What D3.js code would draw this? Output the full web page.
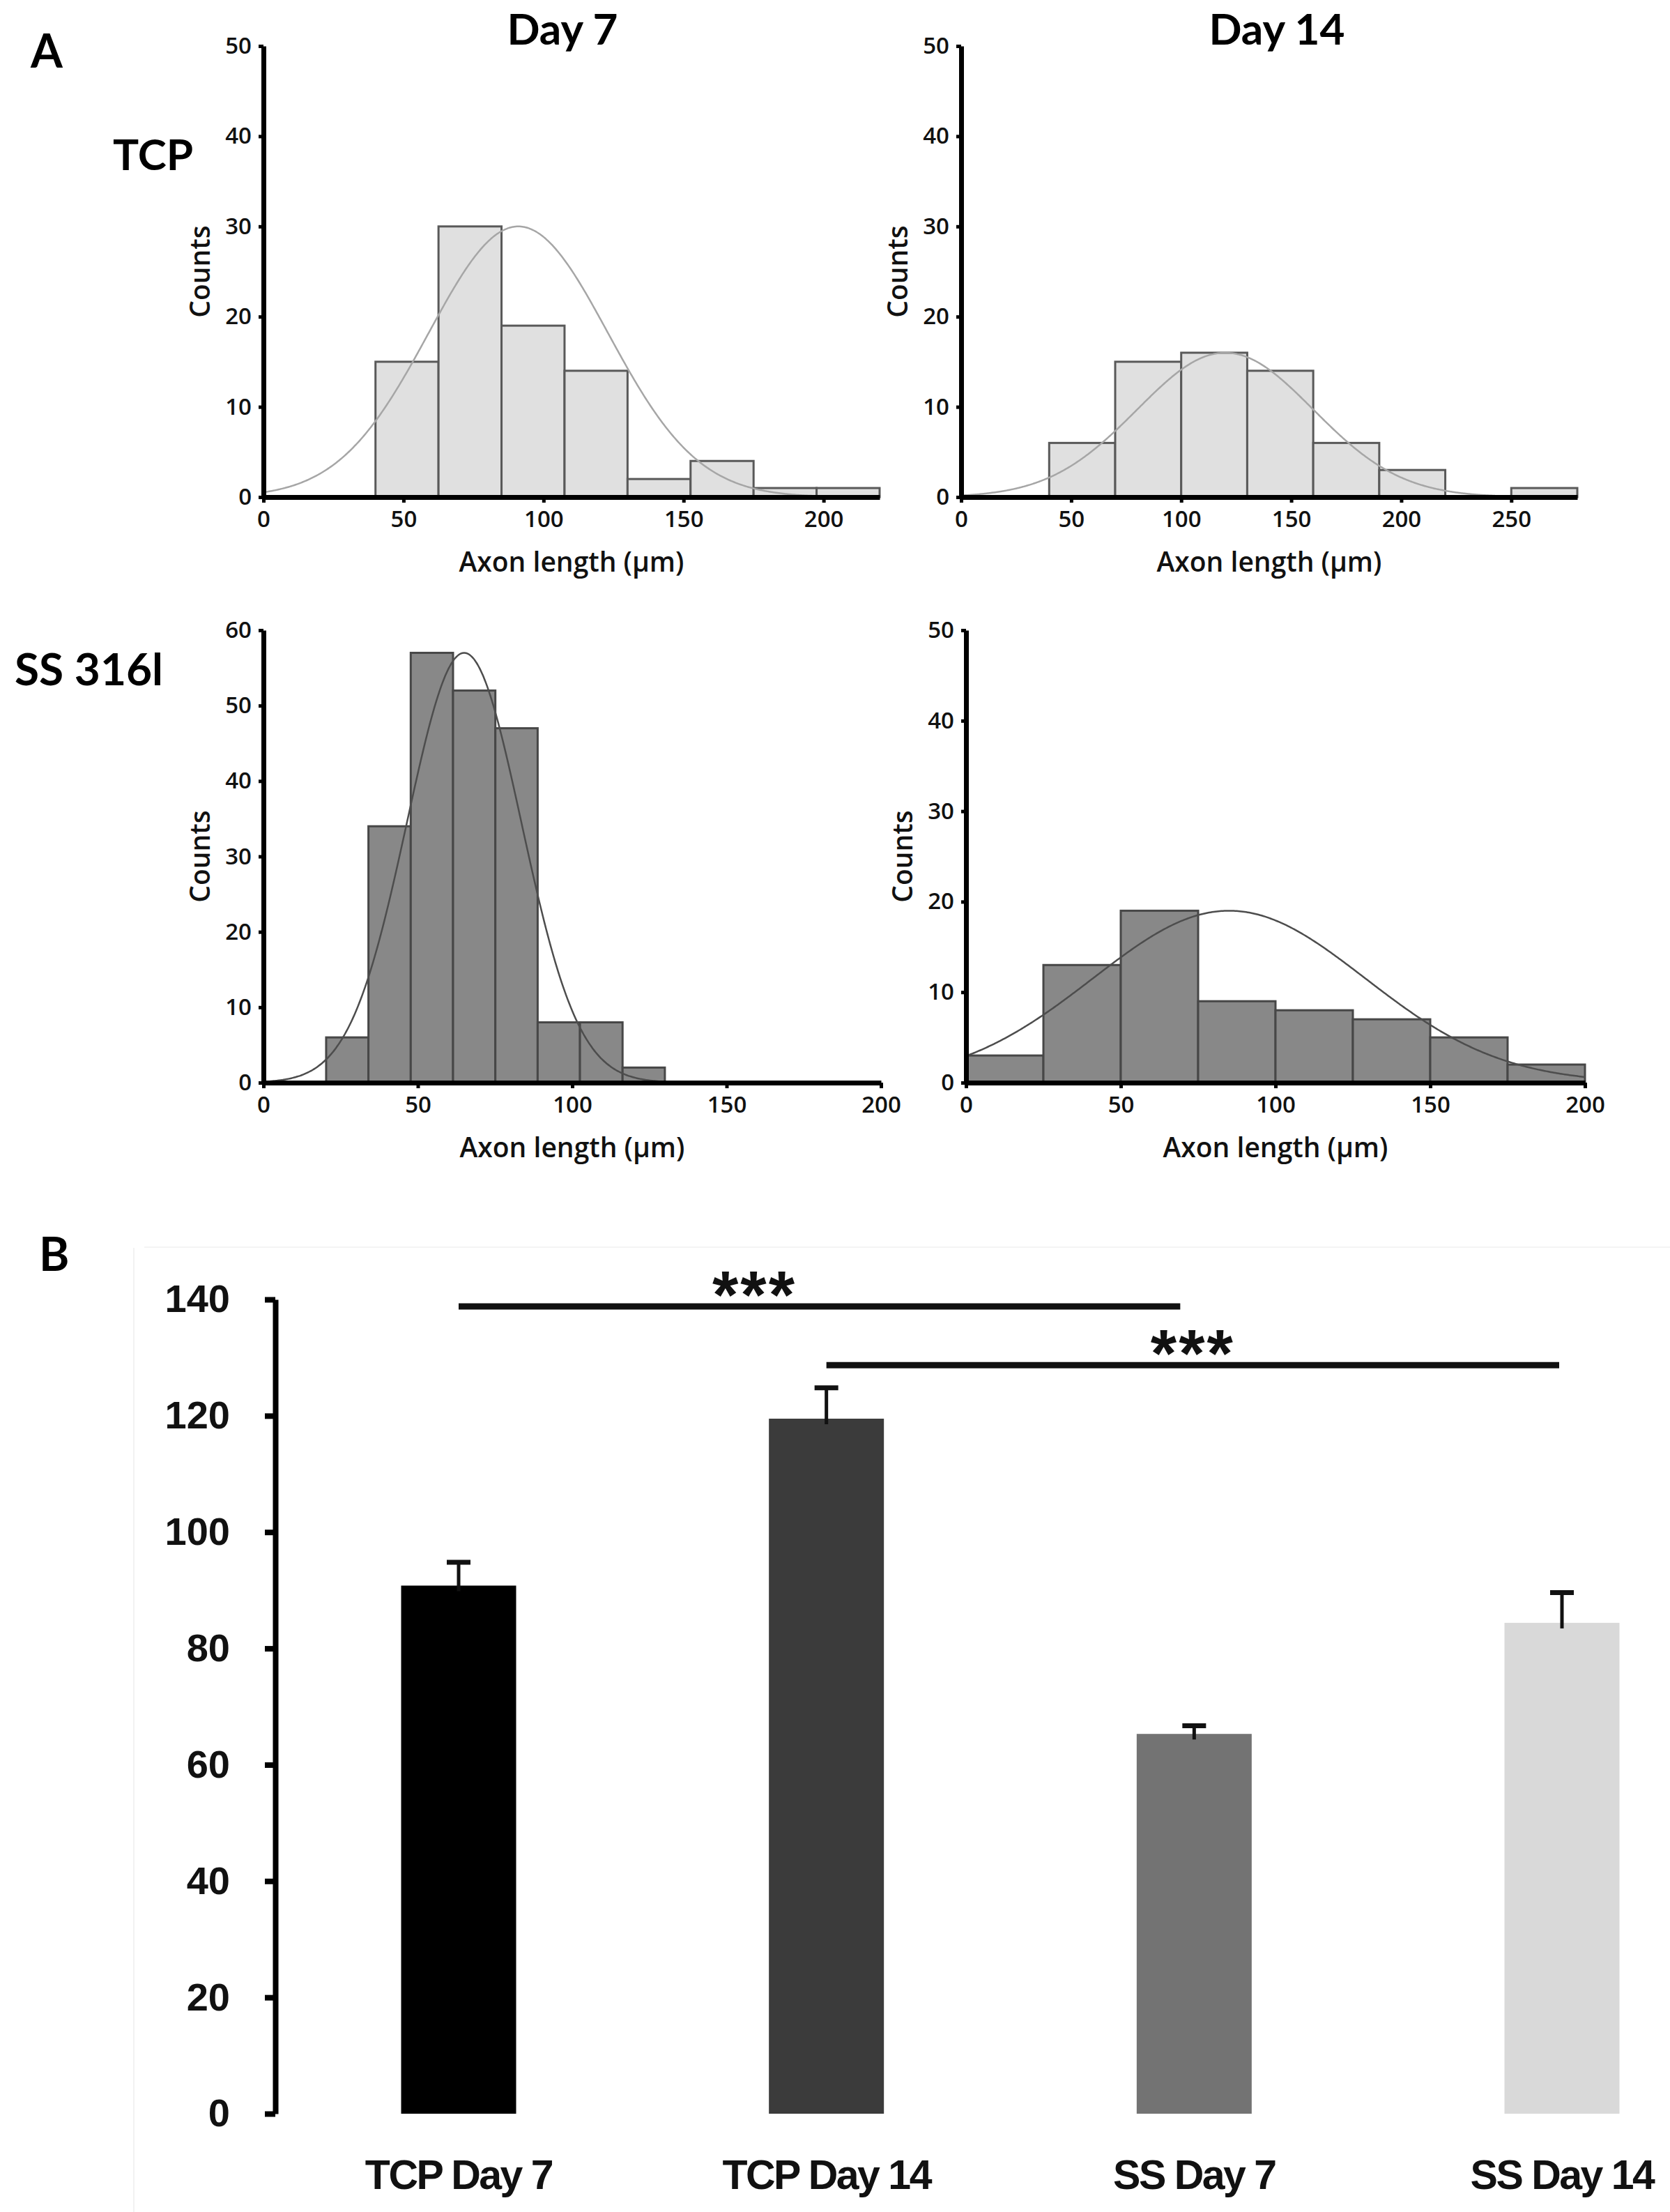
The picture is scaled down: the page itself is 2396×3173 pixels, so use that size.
<!DOCTYPE html>
<html><head><meta charset="utf-8">
<script src="https://cdn.jsdelivr.net/npm/d3@7"></script>
<style>body{margin:0;background:#fff} svg{display:block}</style>
</head><body>
<script>
// ---------- DATA ----------
// Histogram bin edges (µm) and counts
const tcpDay7Edges  = [40, 62.5, 85, 107.5, 130, 152.5, 175, 197.5, 220];
const tcpDay7Counts = [15, 30, 19, 14, 2, 4, 1, 1];
const tcpDay14Edges  = [40, 70, 100, 130, 160, 190, 220, 250, 280];
const tcpDay14Counts = [6, 15, 16, 14, 6, 3, 0, 1];
const ssDay7Edges  = [20.3, 34, 47.7, 61.4, 75.1, 88.8, 102.5, 116.3, 130];
const ssDay7Counts = [6, 34, 57, 52, 47, 8, 8, 2];
const ssDay14Edges  = [0, 25, 50, 75, 100, 125, 150, 175, 200];
const ssDay14Counts = [3, 13, 19, 9, 8, 7, 5, 2];
// Fitted normal curves: [mean, sd, peak count]
const tcpDay7Fit  = [91, 32, 30];
const tcpDay14Fit = [120, 40, 16];
const ssDay7Fit   = [65, 18.5, 57];
const ssDay14Fit  = [85, 44, 19];
// Histogram axes
const tcpDay7XTicks = [0, 50, 100, 150, 200];
const tcpDay14XTicks = [0, 50, 100, 150, 200, 250];
const ssXTicks = [0, 50, 100, 150, 200];
const countTicks50 = [0, 10, 20, 30, 40, 50];
const countTicks60 = [0, 10, 20, 30, 40, 50, 60];

// Panel B bar chart
const barCategories = ["TCP Day 7", "TCP Day 14", "SS Day 7", "SS Day 14"];
const barMeans  = [90.8, 119.5, 65.3, 84.4];
const barErrors = [4.0, 5.3, 1.4, 5.2];
const barYTicks = [0, 20, 40, 60, 80, 100, 120, 140];
const sigFrom   = ["TCP Day 7", "TCP Day 14"];
const sigTo     = ["SS Day 7", "SS Day 14"];
const sigLevel  = [138.8, 128.7];
const sigLabel  = ["***", "***"];

// ---------- DRAW ----------
const W = 2396, H = 3173;
const svg = d3.select("body").append("svg").attr("width", W).attr("height", H)
  .attr("viewBox", `0 0 ${W} ${H}`);
svg.append("rect").attr("width", W).attr("height", H).attr("fill", "#fff");

const labelFont = "Lato, 'Open Sans', sans-serif";
const tickFont = "'Open Sans', sans-serif";

function histogram(o) {
  const g = svg.append("g");
  const x = d3.scaleLinear().domain([0, o.xMax]).range([o.x0, o.x1]);
  const y = d3.scaleLinear().domain([0, o.yMax]).range([o.yb, o.yt]);
  const bins = o.counts.map((c, i) => ({x0: o.edges[i], x1: o.edges[i + 1], c}));
  g.selectAll("rect.bin").data(bins.filter(b => b.c > 0)).join("rect")
    .attr("x", d => x(d.x0)).attr("width", d => x(d.x1) - x(d.x0))
    .attr("y", d => y(d.c)).attr("height", d => y(0) - y(d.c))
    .attr("fill", o.fill).attr("stroke", o.stroke).attr("stroke-width", 3);
  const [mu, sd, pk] = o.fit;
  const xs = d3.range(0, o.xMax + 0.001, 0.5);
  const line = d3.line().x(v => x(v)).y(v => y(pk * Math.exp(-((v - mu) ** 2) / (2 * sd * sd))))
    .curve(d3.curveBasis);
  g.append("path").attr("d", line(xs)).attr("fill", "none")
    .attr("stroke", o.curveColor).attr("stroke-width", 2.5);

  const ax = g.append("g").attr("transform", `translate(0,${o.yb})`)
    .call(d3.axisBottom(x).tickValues(o.xTicks).tickSize(8).tickSizeOuter(0).tickPadding(12));
  const ay = g.append("g").attr("transform", `translate(${o.x0},0)`)
    .call(d3.axisLeft(y).tickValues(o.yTicks).tickSize(7).tickSizeOuter(0).tickPadding(10));
  [ax, ay].forEach(a => {
    a.select(".domain").attr("stroke", "#000").attr("stroke-width", 7);
    a.selectAll(".tick line").attr("stroke", "#000").attr("stroke-width", 5);
    a.selectAll(".tick text").attr("font-family", tickFont).attr("font-weight", 600)
      .attr("font-size", 33).attr("fill", "#111");
  });
  g.append("text").attr("x", (o.x0 + o.x1) / 2).attr("y", o.yb + 107)
    .attr("text-anchor", "middle").attr("font-family", tickFont).attr("font-weight", 600)
    .attr("font-size", 39).attr("fill", "#111").text("Axon length (\u00b5m)");
  g.append("text").attr("transform", `translate(${o.x0 - 91},${(o.yb + o.yt) / 2}) rotate(-90)`)
    .attr("dy", "0.35em").attr("text-anchor", "middle").attr("font-family", tickFont)
    .attr("font-weight", 600).attr("font-size", 39).attr("fill", "#111").text("Counts");
}

const lightFill = "#e0e0e0", lightStroke = "#595959", lightCurve = "#a6a6a6";
const darkFill = "#888888", darkStroke = "#474747", darkCurve = "#4d4d4d";

histogram({x0: 378, x1: 1262, yb: 713, yt: 66, xMax: 220, yMax: 50,
  edges: tcpDay7Edges, counts: tcpDay7Counts, fit: tcpDay7Fit,
  xTicks: tcpDay7XTicks, yTicks: countTicks50, fill: lightFill, stroke: lightStroke, curveColor: lightCurve});
histogram({x0: 1379, x1: 2263, yb: 713, yt: 66, xMax: 280, yMax: 50,
  edges: tcpDay14Edges, counts: tcpDay14Counts, fit: tcpDay14Fit,
  xTicks: tcpDay14XTicks, yTicks: countTicks50, fill: lightFill, stroke: lightStroke, curveColor: lightCurve});
histogram({x0: 378, x1: 1264, yb: 1553, yt: 904, xMax: 200, yMax: 60,
  edges: ssDay7Edges, counts: ssDay7Counts, fit: ssDay7Fit,
  xTicks: ssXTicks, yTicks: countTicks60, fill: darkFill, stroke: darkStroke, curveColor: darkCurve});
histogram({x0: 1386, x1: 2274, yb: 1553, yt: 904, xMax: 200, yMax: 50,
  edges: ssDay14Edges, counts: ssDay14Counts, fit: ssDay14Fit,
  xTicks: ssXTicks, yTicks: countTicks50, fill: darkFill, stroke: darkStroke, curveColor: darkCurve});

// Panel labels
function lbl(t, x, y, size, anchor) {
  svg.append("text").attr("x", x).attr("y", y).attr("text-anchor", anchor || "start")
    .attr("font-family", labelFont).attr("font-weight", 700).attr("font-size", size)
    .attr("fill", "#000").text(t);
}
lbl("A", 44, 97, 66);
lbl("Day 7", 807, 64, 62, "middle");
lbl("Day 14", 1832, 64, 62, "middle");
lbl("TCP", 162, 244, 62);
lbl("SS 316l", 21, 983, 64);
lbl("B", 56, 1823, 66);

// ---------- Panel B ----------
const gb = svg.append("g");
// faint frame
gb.append("line").attr("x1", 192).attr("x2", 192).attr("y1", 1790).attr("y2", H)
  .attr("stroke", "#f2f2f2").attr("stroke-width", 2);
gb.append("line").attr("x1", 207).attr("x2", W).attr("y1", 1789).attr("y2", 1789)
  .attr("stroke", "#f4f4f4").attr("stroke-width", 2);

const yB = d3.scaleLinear().domain([0, 140]).range([3032, 1864]);
const xB = d3.scalePoint().domain(barCategories).range([658, 2241]);
const barW = 165;
const barColors = ["#000000", "#3b3b3b", "#737373", "#d9d9d9"];
const bd = barCategories.map((c, i) => ({c, m: barMeans[i], e: barErrors[i], col: barColors[i]}));

gb.selectAll("rect.bar").data(bd).join("rect")
  .attr("x", d => xB(d.c) - barW / 2).attr("width", barW)
  .attr("y", d => yB(d.m)).attr("height", d => yB(0) - yB(d.m))
  .attr("fill", d => d.col);
gb.selectAll("line.err").data(bd).join("line")
  .attr("x1", d => xB(d.c)).attr("x2", d => xB(d.c))
  .attr("y1", d => yB(d.m) + 8).attr("y2", d => yB(d.m + d.e))
  .attr("stroke", "#111").attr("stroke-width", 5);
gb.selectAll("line.cap").data(bd).join("line")
  .attr("x1", d => xB(d.c) - 17).attr("x2", d => xB(d.c) + 17)
  .attr("y1", d => yB(d.m + d.e)).attr("y2", d => yB(d.m + d.e))
  .attr("stroke", "#111").attr("stroke-width", 7);

const ayB = gb.append("g").attr("transform", "translate(395,0)")
  .call(d3.axisLeft(yB).tickValues(barYTicks).tickSize(15).tickSizeOuter(0).tickPadding(50));
ayB.select(".domain").attr("stroke", "#000").attr("stroke-width", 8);
ayB.selectAll(".tick line").attr("stroke", "#000").attr("stroke-width", 8);
ayB.selectAll(".tick text").attr("font-family", "'Liberation Sans', Arial, sans-serif")
  .attr("font-weight", 700).attr("font-size", 56).attr("fill", "#111");

gb.selectAll("text.xl").data(barCategories).join("text")
  .attr("x", d => xB(d)).attr("y", 3140).attr("text-anchor", "middle")
  .attr("font-family", "'Liberation Sans', Arial, sans-serif").attr("font-weight", 700)
  .attr("font-size", 59).attr("letter-spacing", -2.5).attr("fill", "#111").text(d => d);

const labelFrac = [0.41, 0.5];
const endTrim = [20, 4];
sigFrom.forEach((a, i) => {
  const xa = xB(a), xb = xB(sigTo[i]) - endTrim[i], yy = yB(sigLevel[i]);
  gb.append("line").attr("x1", xa).attr("x2", xb).attr("y1", yy).attr("y2", yy)
    .attr("stroke", "#111").attr("stroke-width", 9);
  gb.append("text").attr("x", xa + labelFrac[i] * (xb - xa)).attr("y", yy + 16)
    .attr("text-anchor", "middle").attr("font-family", "'Liberation Sans', Arial, sans-serif")
    .attr("font-weight", 700).attr("font-size", 96).attr("letter-spacing", 3)
    .attr("fill", "#111").text(sigLabel[i]);
});
</script>
</body></html>
